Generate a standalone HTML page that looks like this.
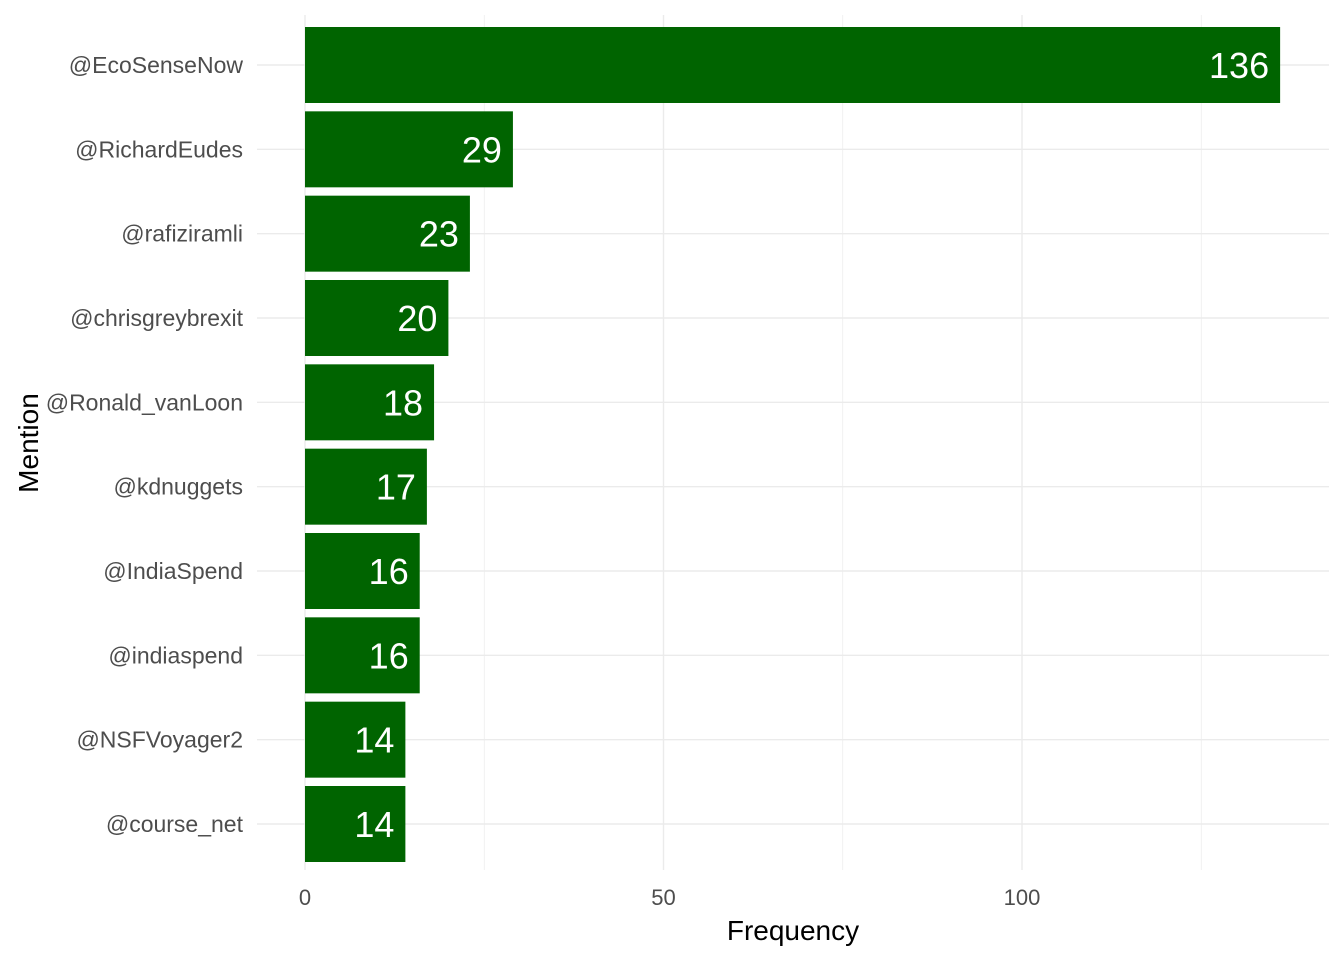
<!DOCTYPE html>
<html><head><meta charset="utf-8"><style>
body{margin:0;background:#fff;font-family:"Liberation Sans",Arial,sans-serif}
</style></head><body>
<svg id="chart" width="1344" height="960" xmlns="http://www.w3.org/2000/svg" font-family="Liberation Sans, Arial, sans-serif"></svg>
<script>
const categories=["@EcoSenseNow","@RichardEudes","@rafiziramli","@chrisgreybrexit","@Ronald_vanLoon","@kdnuggets","@IndiaSpend","@indiaspend","@NSFVoyager2","@course_net"];
const values=[136,29,23,20,18,17,16,16,14,14];
const xTicks=[0,50,100];
const NS="http://www.w3.org/2000/svg";
const svg=document.getElementById('chart');
const x0=305,pxPer=(1022-305)/100;
const xs=v=>x0+v*pxPer;
const top0=65,step=(824-65)/9,bh=76;
const ys=i=>top0+i*step;
function el(t,a,p){const e=document.createElementNS(NS,t);for(const k in a)e.setAttribute(k,a[k]);(p||svg).appendChild(e);return e;}
const grid=el('g',{});


for(let v=0;v<=125;v+=25){el('line',{x1:xs(v),x2:xs(v),y1:15,y2:870,stroke:'#ebebeb','stroke-width':v%50===0?1.4:0.7},grid);}
categories.forEach((c,i)=>{el('line',{x1:257,x2:1329,y1:ys(i),y2:ys(i),stroke:'#ebebeb','stroke-width':1.4},grid);});
categories.forEach((c,i)=>{
 const r=el('rect',{x:x0,y:ys(i)-bh/2,width:xs(values[i])-x0,height:bh,fill:'#006400'});
 
 
 const t=el('text',{x:xs(values[i])-11,y:ys(i)+13,'text-anchor':'end','font-size':36,fill:'#fff'});
 t.textContent=values[i];
 
 
 const l=el('text',{x:243,y:ys(i)+8,'text-anchor':'end','font-size':23,fill:'#4d4d4d'});
 l.textContent=c;
 
 
});
xTicks.forEach(v=>{const t=el('text',{x:xs(v),y:905,'text-anchor':'middle','font-size':22,fill:'#4d4d4d'});t.textContent=v;
 
 });
const xt=el('text',{x:793,y:940,'text-anchor':'middle','font-size':28,fill:'#000'});xt.textContent='Frequency';


const yt=el('text',{x:38,y:443,'text-anchor':'middle','font-size':28,fill:'#000',transform:'rotate(-90 38 443)'});yt.textContent='Mention';


</script>
</body></html>
